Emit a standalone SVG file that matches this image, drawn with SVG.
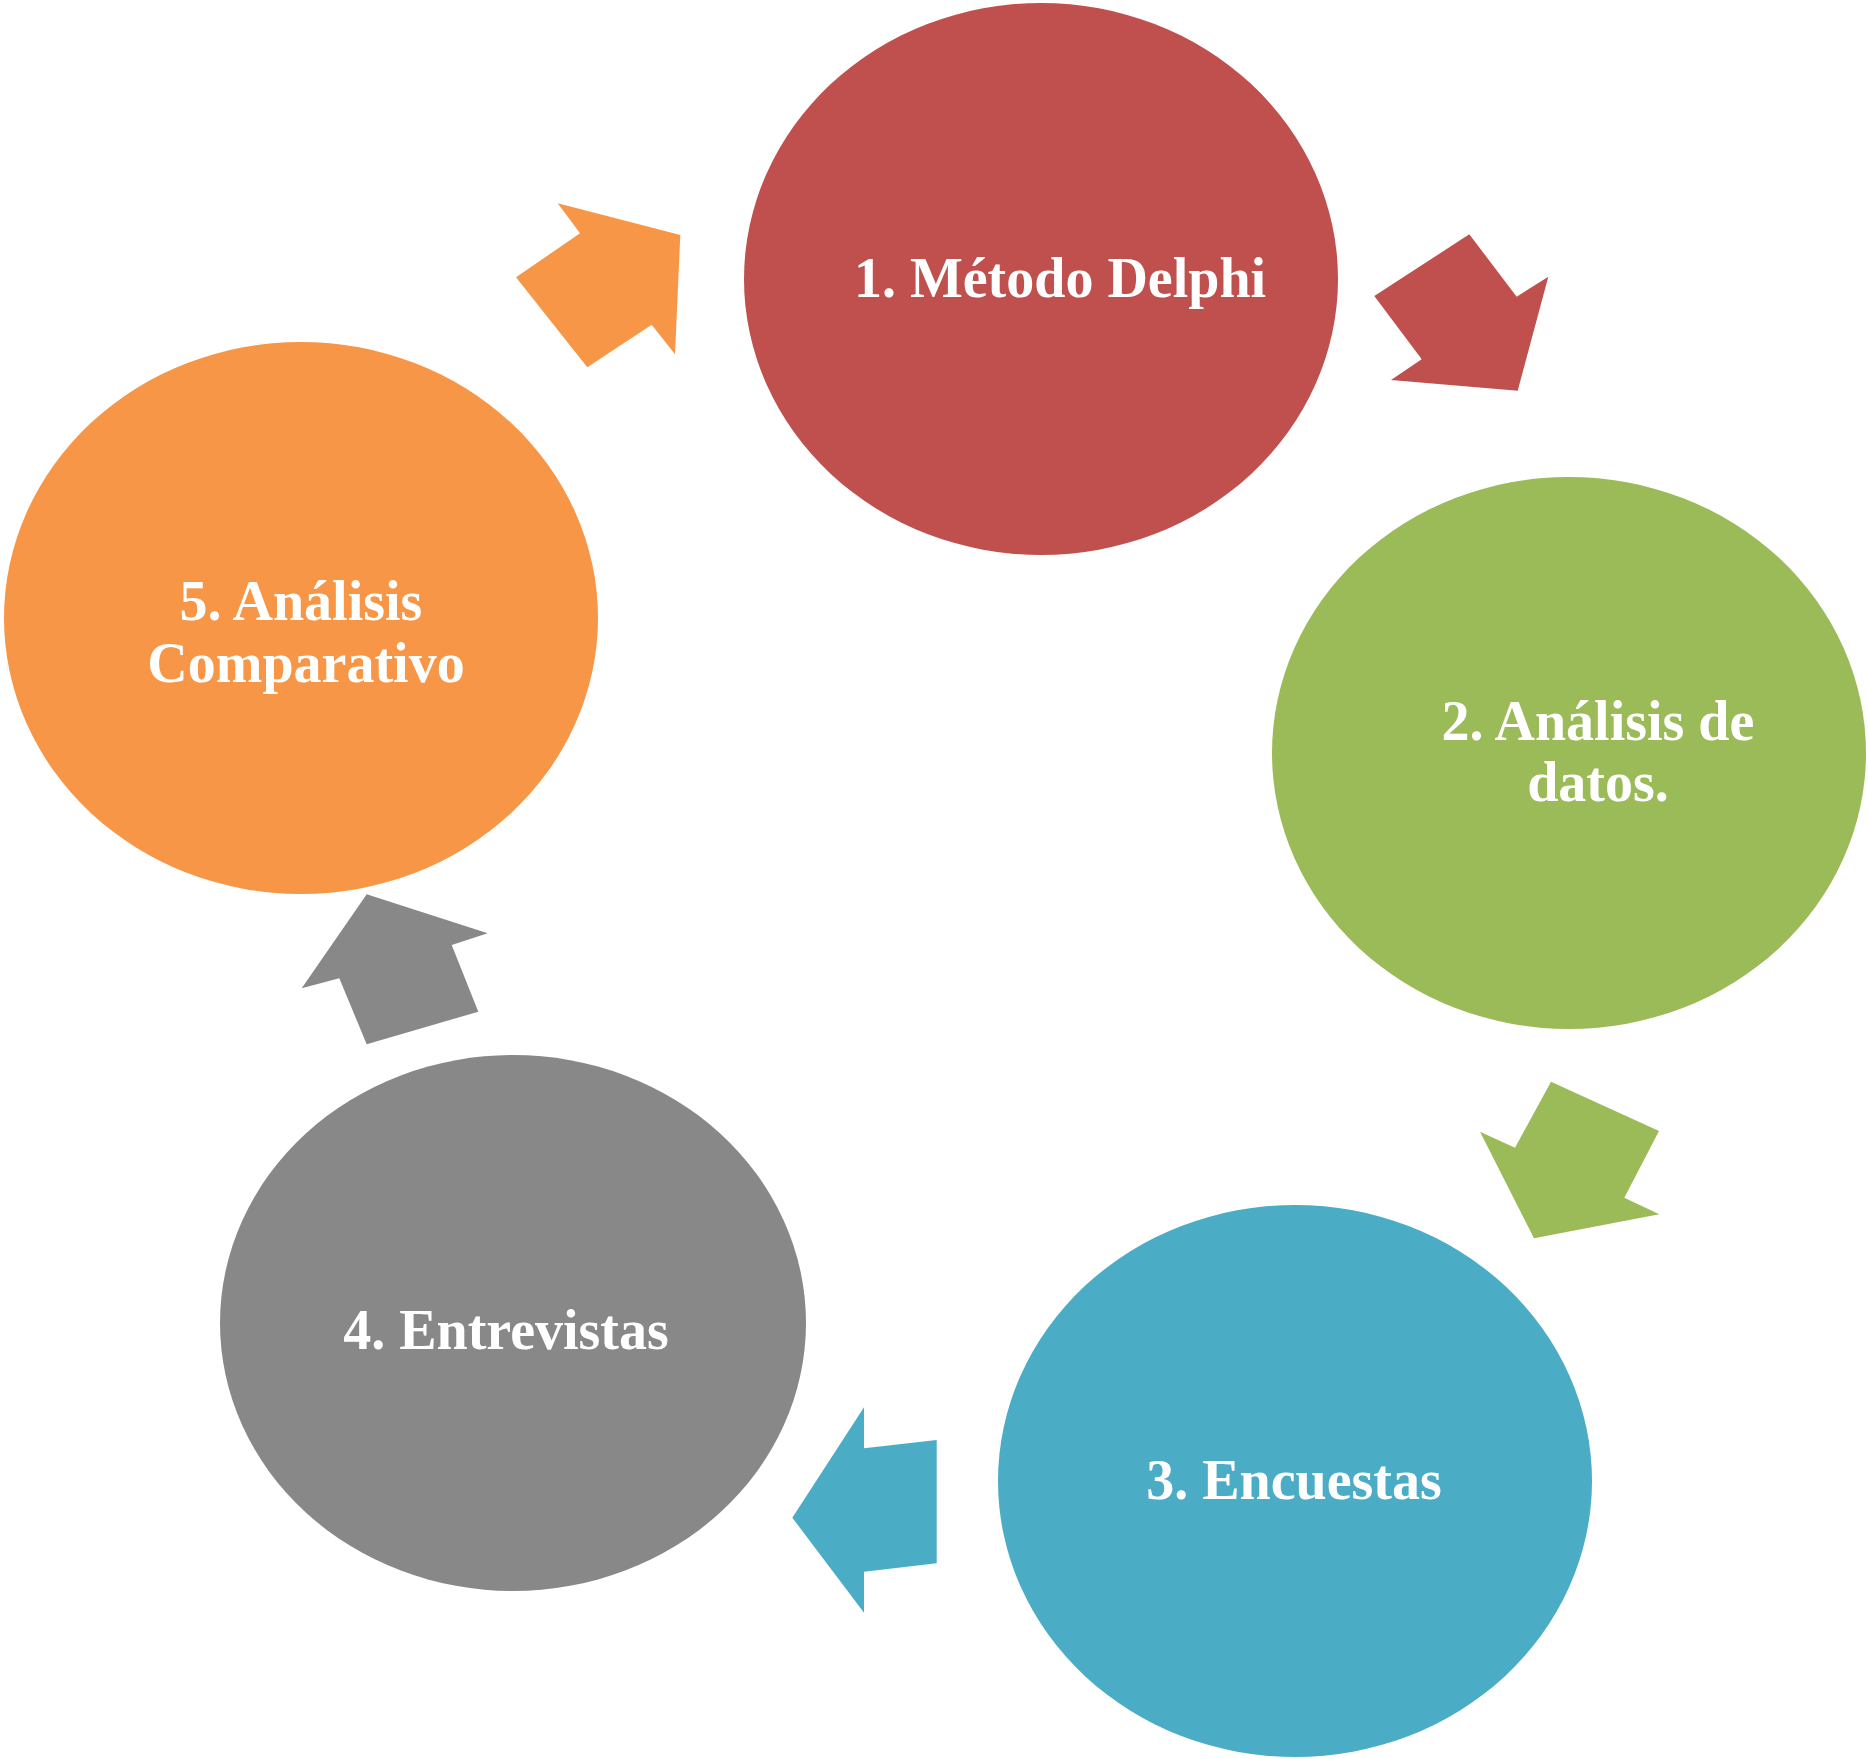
<svg xmlns="http://www.w3.org/2000/svg" width="1868" height="1759" viewBox="0 0 1868 1759">
<style>
.lbl{font-family:"Liberation Serif","Times New Roman",serif;font-weight:bold;font-size:56px;fill:#ffffff;text-anchor:middle}
</style>
<rect width="1868" height="1759" fill="#ffffff"/>
<g id="connectors">
<polygon id="arrow-1-2" fill="#C0504D" points="1469.3,234.3 1516.7,296.7 1548.3,276.7 1517.7,390.7 1391,380 1421.7,359.3 1374.3,296"/>
<polygon id="arrow-2-3" fill="#9BBB59" points="1551,1081.7 1659,1131 1624.3,1197.7 1659.3,1214.3 1534,1238.3 1480,1131.7 1515,1147.7"/>
<polygon id="arrow-3-4" fill="#4BACC6" points="864,1407.3 864,1448.3 936.7,1440 936.7,1563.3 864,1571.7 864,1612.7 792.3,1517.7"/>
<polygon id="arrow-4-5" fill="#888888" points="366.7,894.3 487.7,933.3 451.7,945 478.3,1011.7 366.7,1044.3 339.3,978.3 301.7,988.3"/>
<polygon id="arrow-5-1" fill="#F79646" points="557.7,203.3 680.3,235 675,354.3 651.7,324.7 587.3,367.3 516,277.3 580,233.3"/>
</g>
<g id="node1">
<ellipse cx="1041" cy="279" rx="297" ry="276" fill="#C0504D"/>
<text class="lbl" x="1060" y="297">1. Método Delphi</text>
</g>
<g id="node2">
<ellipse cx="1569" cy="753" rx="297" ry="276" fill="#9BBB59"/>
<text class="lbl" x="1598" y="740">2. Análisis de</text>
<text class="lbl" x="1598" y="801">datos.</text>
</g>
<g id="node3">
<ellipse cx="1295" cy="1481" rx="297" ry="276" fill="#4BACC6"/>
<text class="lbl" x="1294" y="1499">3. Encuestas</text>
</g>
<g id="node4">
<ellipse cx="513" cy="1323" rx="293" ry="268" fill="#888888"/>
<text class="lbl" x="506" y="1349">4. Entrevistas</text>
</g>
<g id="node5">
<ellipse cx="301" cy="618" rx="297" ry="276" fill="#F79646"/>
<text class="lbl" x="301" y="620">5. Análisis</text>
<text class="lbl" x="306" y="682">Comparativo</text>
</g>
</svg>
